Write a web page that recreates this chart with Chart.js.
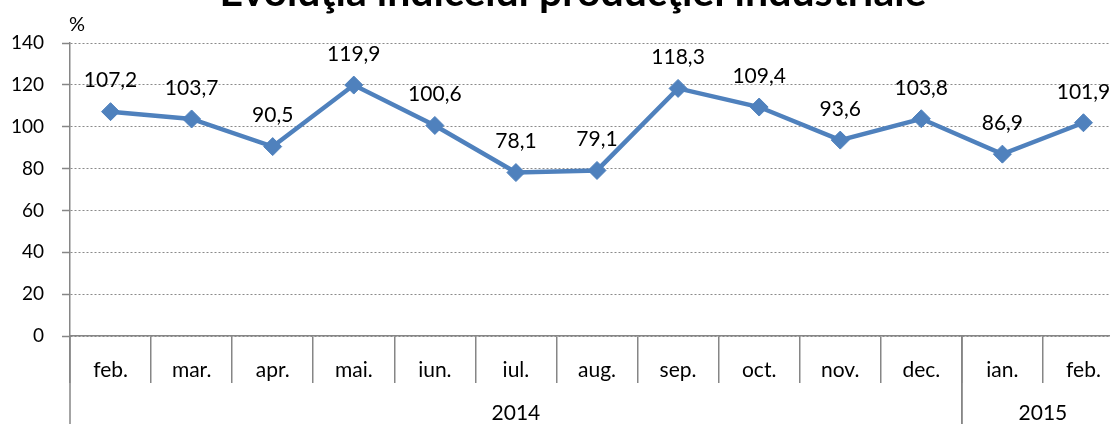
<!DOCTYPE html>
<html>
<head>
<meta charset="utf-8">
<script src="https://cdn.jsdelivr.net/npm/chart.js@4.4.1/dist/chart.umd.min.js"></script>
<style>
  html, body { margin: 0; padding: 0; background: #fff; overflow: hidden; }
  #wrap { position: relative; width: 1140px; height: 424px; }
</style>
</head>
<body>
<div id="wrap"><canvas id="c"></canvas></div>
<script>
const titleText = 'Evoluţia indicelui producţiei industriale';
const unitLabel = '%';
const months = ['feb.', 'mar.', 'apr.', 'mai.', 'iun.', 'iul.', 'aug.', 'sep.', 'oct.', 'nov.', 'dec.', 'ian.', 'feb.'];
const years = ['2014', '2014', '2014', '2014', '2014', '2014', '2014', '2014', '2014', '2014', '2014', '2015', '2015'];
const values = [107.2, 103.7, 90.5, 119.9, 100.6, 78.1, 79.1, 118.3, 109.4, 93.6, 103.8, 86.9, 101.9];
const yTicks = [0, 20, 40, 60, 80, 100, 120, 140];

const FONT = 'Lato, "Open Sans", sans-serif';
const AXIS_GREY = '#868686';
const LINE_BLUE = '#4F81BD';

const fmt = v => v.toFixed(1).replace('.', ',');

const extras = {
  id: 'extras',
  afterDatasetsDraw(chart) {
    const ctx = chart.ctx;
    const meta = chart.getDatasetMeta(0);
    ctx.save();
    ctx.fillStyle = '#000';
    ctx.font = '21px ' + FONT;
    ctx.textAlign = 'center';
    ctx.textBaseline = 'middle';
    meta.data.forEach((pt, i) => {
      ctx.fillText(fmt(values[i]), pt.x, pt.y - 31);
    });
    ctx.restore();
  },
  afterDraw(chart) {
    const ctx = chart.ctx;
    const x = chart.scales.x;
    const area = chart.chartArea;
    ctx.save();
    // title (cropped at top)
    ctx.fillStyle = '#000';
    ctx.font = 'bold 41px ' + FONT;
    ctx.textAlign = 'center';
    ctx.textBaseline = 'alphabetic';
    ctx.fillText(titleText, 573, 6);
    // unit label
    ctx.font = '20px ' + FONT;
    ctx.textAlign = 'left';
    ctx.textBaseline = 'middle';
    ctx.fillText(unitLabel, area.left - 1, 25);
    // year groups
    ctx.font = '21px ' + FONT;
    const half = (x.getPixelForValue(1) - x.getPixelForValue(0)) / 2;
    const groups = [];
    years.forEach((y, i) => {
      if (!groups.length || groups[groups.length - 1].year !== y) groups.push({ year: y, start: i, end: i });
      else groups[groups.length - 1].end = i;
    });
    ctx.strokeStyle = AXIS_GREY;
    ctx.lineWidth = 1.5;
    const bottom = chart.height;
    groups.forEach(g => {
      const x0 = x.getPixelForValue(g.start) - half;
      const x1 = x.getPixelForValue(g.end) + half;
      ctx.beginPath();
      ctx.moveTo(x0, area.bottom);
      ctx.lineTo(x0, bottom);
      ctx.moveTo(x1, area.bottom);
      ctx.lineTo(x1, bottom);
      ctx.stroke();
      ctx.textAlign = 'center';
      ctx.fillText(g.year, (x0 + x1) / 2, 413);
    });
    ctx.restore();
  }
};

new Chart(document.getElementById('c'), {
  type: 'line',
  data: {
    labels: months,
    datasets: [{
      data: values,
      borderColor: LINE_BLUE,
      backgroundColor: LINE_BLUE,
      borderWidth: 4.5,
      pointStyle: 'rectRot',
      pointRadius: 9,
      pointHoverRadius: 9,
      pointBackgroundColor: LINE_BLUE,
      pointBorderColor: LINE_BLUE,
      pointBorderWidth: 1,
      tension: 0,
      clip: false
    }]
  },
  options: {
    responsive: true,
    maintainAspectRatio: false,
    animation: false,
    events: [],
    layout: { padding: { top: 43, right: 16, left: 0, bottom: 0 } },
    plugins: { legend: { display: false }, tooltip: { enabled: false }, title: { display: false } },
    scales: {
      x: {
        offset: true,
        afterFit(s) { s.height = 88; },
        grid: { offset: true, drawOnChartArea: false, drawTicks: true, tickLength: 47, color: AXIS_GREY, lineWidth: 1.5 },
        border: { display: true, color: AXIS_GREY, width: 1.5 },
        ticks: { color: '#000', font: { family: FONT, size: 21 }, padding: -25, maxRotation: 0, autoSkip: false }
      },
      y: {
        min: 0,
        max: 140,
        afterFit(s) { s.width = 70; },
        afterBuildTicks(s) { s.ticks = yTicks.map(v => ({ value: v })); },
        grid: { color: '#8a8a8a', lineWidth: 1, tickLength: 8, tickColor: AXIS_GREY, tickWidth: 1.5, drawTicks: true },
        border: { display: true, color: AXIS_GREY, width: 1.5, dash: [2, 2] },
        ticks: { color: '#000', font: { family: FONT, size: 19 }, padding: 18 }
      }
    }
  },
  plugins: [extras]
});
</script>
</body>
</html>
